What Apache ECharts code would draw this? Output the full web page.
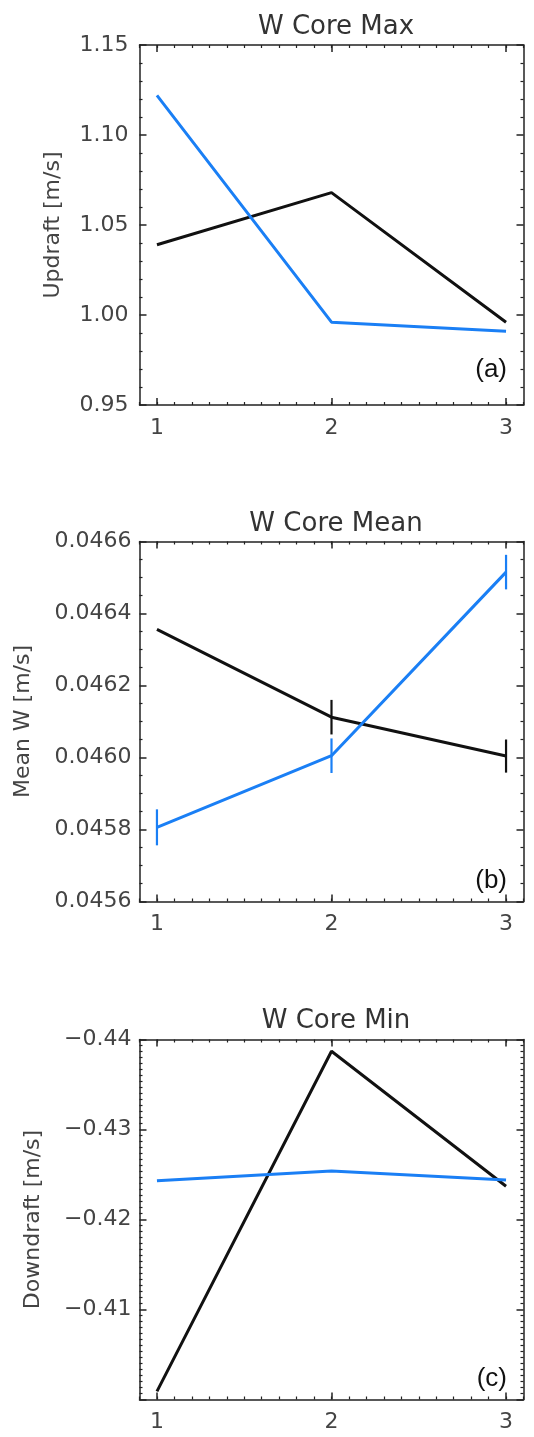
<!DOCTYPE html>
<html>
<head>
<meta charset="utf-8">
<script src="https://cdn.jsdelivr.net/npm/echarts@6/dist/echarts.min.js"></script>
<style>
html,body{margin:0;padding:0;background:#fff;}
#chart{width:534px;height:1437px;}
</style>
</head>
<body>
<div id="chart"></div>
<script>
// ---- data ----
const xValues = [1, 2, 3];
const xMajorTicks = [1, 2, 3];

const maxBlack = [1.039, 1.068, 0.996];
const maxBlue  = [1.122, 0.996, 0.991];

const meanBlack    = [0.046356, 0.046112, 0.046004];
const meanBlue     = [0.045806, 0.046005, 0.046515];
const meanBlackErr = [0, 0.000048, 0.000046];
const meanBlueErr  = [0.00005, 0.000048, 0.000048];

const minBlack = [-0.4009, -0.4387, -0.4237];
const minBlue  = [-0.4243, -0.4254, -0.4244];

const titles = ['W Core Max', 'W Core Mean', 'W Core Min'];
const yNames = ['Updraft [m/s]', 'Mean W [m/s]', 'Downdraft [m/s]'];
const panelTags = ['(a)', '(b)', '(c)'];

// ---- styles ----
const BLUE = '#1a7ff5';
const BLACK = '#111111';
const AXIS = '#222222';
const LABEL = '#444444';
const FONT = 'DejaVu Sans';

const panels = [
  {top: 45,   yMin: 0.95,   yMax: 1.15,   yInt: 0.05,   minor: 5,  inverse: false,
   fmt: v => v.toFixed(2), labelMargin: 11, nameGap: 75,
   series: [maxBlack, maxBlue], errs: null},
  {top: 541.5, yMin: 0.0456, yMax: 0.0466, yInt: 0.0002, minor: 4,  inverse: false,
   fmt: v => v.toFixed(4), labelMargin: 8, nameGap: 105,
   series: [meanBlack, meanBlue], errs: [meanBlackErr, meanBlueErr]},
  {top: 1039.5, yMin: -0.44, yMax: -0.40, yInt: 0.01, minor: 15, inverse: true,
   fmt: v => (Math.abs(v + 0.40) < 1e-9 ? '' : '\u2212' + Math.abs(v).toFixed(2)), labelMargin: 8, nameGap: 95,
   series: [minBlack, minBlue], errs: null}
];
const PLOT_H = 360;

const grid = [], xAxis = [], yAxis = [], series = [], title = [];

panels.forEach((p, i) => {
  grid.push({left: 139.5, right: 10.5, top: p.top, height: PLOT_H, show: false});

  const baseX = {gridIndex: i, type: 'value', min: 0.9, max: 3.1, splitLine: {show: false}};
  const xi = xAxis.length;
  xAxis.push(Object.assign({}, baseX, {
    position: 'bottom',
    axisLine: {show: true, lineStyle: {color: AXIS, width: 1.5}},
    axisTick: {show: true, inside: true, length: 7, customValues: xMajorTicks, lineStyle: {color: AXIS, width: 1.5}},
    axisLabel: {show: true, customValues: xMajorTicks, margin: 12, fontSize: 22, fontFamily: FONT, color: LABEL}
  }));
  xAxis.push(Object.assign({}, baseX, {
    position: 'bottom', interval: 0.1,
    axisLine: {show: false},
    axisTick: {show: true, inside: true, length: 3, lineStyle: {color: AXIS, width: 1.2}},
    axisLabel: {show: false}
  }));
  xAxis.push(Object.assign({}, baseX, {
    position: 'top',
    axisLine: {show: true, lineStyle: {color: AXIS, width: 1.5}},
    axisTick: {show: true, inside: true, length: 7, customValues: xMajorTicks, lineStyle: {color: AXIS, width: 1.5}},
    axisLabel: {show: false}
  }));
  xAxis.push(Object.assign({}, baseX, {
    position: 'top', interval: 0.1,
    axisLine: {show: false},
    axisTick: {show: true, inside: true, length: 3, lineStyle: {color: AXIS, width: 1.2}},
    axisLabel: {show: false}
  }));

  const baseY = {gridIndex: i, type: 'value', min: p.yMin, max: p.yMax, interval: p.yInt,
    inverse: p.inverse, splitLine: {show: false},
    axisLine: {show: true, lineStyle: {color: AXIS, width: 1.5}},
    axisTick: {show: true, inside: true, length: 7, lineStyle: {color: AXIS, width: 1.5}},
    minorTick: {show: true, splitNumber: p.minor, length: 3, lineStyle: {color: AXIS, width: 1.2}},
    minorSplitLine: {show: false}};
  const yi = yAxis.length;
  yAxis.push(Object.assign({}, baseY, {
    position: 'left',
    axisLabel: {show: true, margin: p.labelMargin, fontSize: 22, fontFamily: FONT, color: LABEL, formatter: p.fmt},
    name: yNames[i], nameLocation: 'middle', nameGap: p.nameGap, nameRotate: 90,
    nameTextStyle: {fontSize: 22, fontFamily: FONT, color: LABEL}
  }));
  yAxis.push(Object.assign({}, baseY, {position: 'right', axisLabel: {show: false}}));

  const colors = [BLACK, BLUE];
  p.series.forEach((vals, k) => {
    series.push({
      type: 'line', xAxisIndex: xi, yAxisIndex: yi,
      data: xValues.map((x, j) => [x, vals[j]]),
      symbol: 'none', smooth: false, silent: true, animation: false,
      lineStyle: {color: colors[k], width: 3},
      z: 3 + k
    });
    if (p.errs) {
      const e = p.errs[k];
      series.push({
        type: 'custom', xAxisIndex: xi, yAxisIndex: yi, animation: false, silent: true,
        data: xValues.map((x, j) => [x, vals[j] - e[j], vals[j] + e[j]]).filter((d, j) => e[j] > 0),
        encode: {x: 0, y: [1, 2]},
        renderItem: (params, api) => {
          const a = api.coord([api.value(0), api.value(1)]);
          const b = api.coord([api.value(0), api.value(2)]);
          return {type: 'line', shape: {x1: a[0], y1: a[1], x2: b[0], y2: b[1]},
                  style: {stroke: colors[k], lineWidth: 2.2}};
        },
        z: 3 + k
      });
    }
  });

  const tops = [9, 506, 1003];
  title.push({text: titles[i], left: 331, top: tops[i], textAlign: 'center',
    textStyle: {fontSize: 26, fontWeight: 'normal', fontFamily: FONT, color: '#333'}});
  const tagTops = [352, 863, 1361];
  title.push({text: panelTags[i], right: 22, top: tagTops[i],
    textStyle: {fontSize: 26, fontWeight: 'normal', fontFamily: 'Liberation Sans', color: '#111'}});
});

const chart = echarts.init(document.getElementById('chart'), null, {renderer: 'canvas'});
chart.setOption({animation: false, backgroundColor: '#fff', title, grid, xAxis, yAxis, series});
</script>
</body>
</html>
